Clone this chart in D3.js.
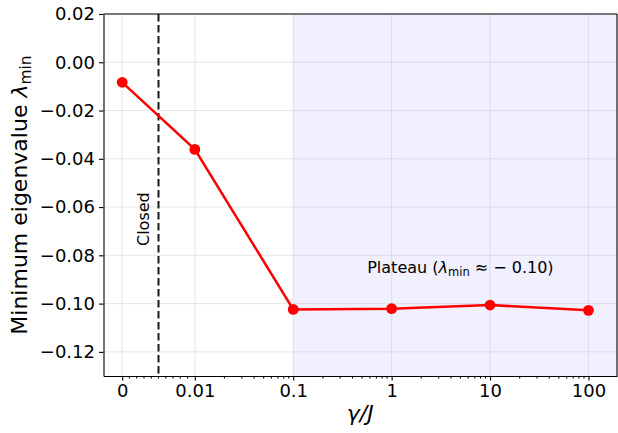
<!DOCTYPE html>
<html lang="en">
	<head>
		<meta charset="utf-8">
		<title>Minimum eigenvalue vs gamma/J</title>
		<script type="text/javascript" src="https://cdn.jsdelivr.net/npm/d3@7"></script>
		<style type="text/css">
			body { margin: 0; background: white; }
			svg { font-family: "DejaVu Sans", sans-serif; }
			.axis path { stroke: black; stroke-width: 1.1; }
			.axis line { stroke: black; stroke-width: 1.1; }
			.axis text { font-family: "DejaVu Sans", sans-serif; font-size: 18px; fill: black; }
			.grid line { stroke: #b0b0b0; stroke-opacity: 0.3; stroke-width: 1; }
		</style>
	</head>
	<body>
		<script type="text/javascript">

			// data
			var gammaValues = [0, 0.01, 0.1, 1, 10, 100];
			var lambdaMin = [-0.0083, -0.0361, -0.1024, -0.1021, -0.1006, -0.1028];

			var xTickValues = [0, 0.01, 0.1, 1, 10, 100];
			var xTickLabels = ["0", "0.01", "0.1", "1", "10", "100"];
			var xMinorTicks = [0.001, 0.002, 0.003, 0.004, 0.005, 0.006, 0.007, 0.008, 0.009,
				0.02, 0.03, 0.04, 0.05, 0.06, 0.07, 0.08, 0.09,
				0.2, 0.3, 0.4, 0.5, 0.6, 0.7, 0.8, 0.9,
				2, 3, 4, 5, 6, 7, 8, 9,
				20, 30, 40, 50, 60, 70, 80, 90, 200];
			var yTickValues = [-0.12, -0.10, -0.08, -0.06, -0.04, -0.02, 0.00, 0.02];

			var closedGamma = 0.005;     // dashed line
			var plateauStart = 0.1;      // shaded region start

			var w = 618;
			var h = 433;
			var padL = 103.5, padR = 617, padT = 14, padB = 376;

			// symlog-like position: linear below 0.01, log above
			var linThresh = 0.01;
			var linWidth = 0.738;
			function pos(v) {
				if (v <= linThresh) return v / linThresh * linWidth;
				return linWidth + Math.log10(v / linThresh);
			}

			var xLin = d3.scaleLinear()
						.domain([-0.19, linWidth + 4.29])
						.range([padL, padR]);
			function xScale(v) { return xLin(pos(v)); }

			var yScale = d3.scaleLinear()
						.domain([-0.13, 0.02])
						.range([padB, padT]);

			var svg = d3.select("body")
						.append("svg")
						.attr("width", w)
						.attr("height", h);

			//shaded plateau region
			svg.append("rect")
				.attr("x", xScale(plateauStart))
				.attr("y", padT)
				.attr("width", padR - xScale(plateauStart))
				.attr("height", padB - padT)
				.attr("fill", "rgb(240,240,255)");

			//grid
			var grid = svg.append("g").attr("class", "grid");
			grid.selectAll("line.gx")
				.data(xTickValues)
				.enter()
				.append("line")
				.attr("class", "gx")
				.attr("x1", function(d) { return xScale(d); })
				.attr("x2", function(d) { return xScale(d); })
				.attr("y1", padT)
				.attr("y2", padB);
			grid.selectAll("line.gy")
				.data(yTickValues)
				.enter()
				.append("line")
				.attr("class", "gy")
				.attr("x1", padL)
				.attr("x2", padR)
				.attr("y1", function(d) { return yScale(d); })
				.attr("y2", function(d) { return yScale(d); });

			//dashed "closed" line
			svg.append("line")
				.attr("x1", xScale(closedGamma))
				.attr("x2", xScale(closedGamma))
				.attr("y1", padT)
				.attr("y2", padB)
				.attr("stroke", "#1a1a1a")
				.attr("stroke-width", 2)
				.attr("stroke-dasharray", "7.5,3.5");

			svg.append("text")
				.attr("transform", "translate(" + xScale(0.0029) + "," + yScale(-0.065) + ") rotate(-90)")
				.attr("text-anchor", "middle")
				.attr("dy", "0.35em")
				.attr("font-size", "16px")
				.text("Closed");

			//plateau annotation
			var ann = svg.append("text")
				.attr("x", xScale(5))
				.attr("y", yScale(-0.085))
				.attr("dy", "0.35em")
				.attr("text-anchor", "middle")
				.attr("font-size", "16px");
			ann.append("tspan").text("Plateau (");
			ann.append("tspan").attr("font-style", "italic").text("λ");
			ann.append("tspan").attr("font-size", "11.5px").attr("dy", "3").text("min");
			ann.append("tspan").attr("dy", "-3").text(" ≈ − 0.10)");

			//line and markers
			var line = d3.line()
						.x(function(d, i) { return xScale(gammaValues[i]); })
						.y(function(d) { return yScale(d); });

			svg.append("path")
				.datum(lambdaMin)
				.attr("d", line)
				.attr("fill", "none")
				.attr("stroke", "#ff0000")
				.attr("stroke-width", 2.5);

			svg.selectAll("circle")
				.data(lambdaMin)
				.enter()
				.append("circle")
				.attr("cx", function(d, i) { return xScale(gammaValues[i]); })
				.attr("cy", function(d) { return yScale(d); })
				.attr("r", 5.4)
				.attr("fill", "#ff0000");

			//axes
			var xAxis = d3.axisBottom(xLin)
						.tickValues(xTickValues.map(pos))
						.tickFormat(function(d, i) { return xTickLabels[i]; })
						.tickSize(4.5)
						.tickPadding(4)
						.tickSizeOuter(0);

			var yAxis = d3.axisLeft(yScale)
						.tickValues(yTickValues)
						.tickFormat(function(d) { return d3.format(".2f")(d).replace("-", "−"); })
						.tickSize(4.5)
						.tickPadding(4)
						.tickSizeOuter(0);

			var gx = svg.append("g")
					.attr("class", "axis")
					.attr("transform", "translate(0," + padB + ")")
					.call(xAxis);

			gx.selectAll("line.minor")
				.data(xMinorTicks.filter(function(d) { return xScale(d) <= padR; }))
				.enter()
				.append("line")
				.attr("class", "minor")
				.attr("x1", function(d) { return xScale(d); })
				.attr("x2", function(d) { return xScale(d); })
				.attr("y1", 0)
				.attr("y2", 2.5)
				.attr("stroke-width", 0.8);

			svg.append("g")
					.attr("class", "axis")
					.attr("transform", "translate(" + padL + ",0)")
					.call(yAxis);

			//top and right spines
			svg.append("line")
				.attr("x1", padL).attr("x2", padR)
				.attr("y1", padT).attr("y2", padT)
				.attr("stroke", "black").attr("stroke-width", 1.1);
			svg.append("line")
				.attr("x1", padR).attr("x2", padR)
				.attr("y1", padT).attr("y2", padB)
				.attr("stroke", "black").attr("stroke-width", 1.1);

			//axis labels
			var yl = svg.append("text")
				.attr("transform", "translate(27," + ((padT + padB) / 2) + ") rotate(-90)")
				.attr("text-anchor", "middle")
				.attr("font-size", "22px");
			yl.append("tspan").text("Minimum eigenvalue ");
			yl.append("tspan").attr("font-style", "italic").text("λ");
			yl.append("tspan").attr("font-size", "15.5px").attr("dy", "4").text("min");

			svg.append("text")
				.attr("x", (padL + padR) / 2)
				.attr("y", 421)
				.attr("text-anchor", "middle")
				.attr("font-size", "22px")
				.attr("font-style", "italic")
				.text("γ/J");

		</script>
	</body>
</html>
